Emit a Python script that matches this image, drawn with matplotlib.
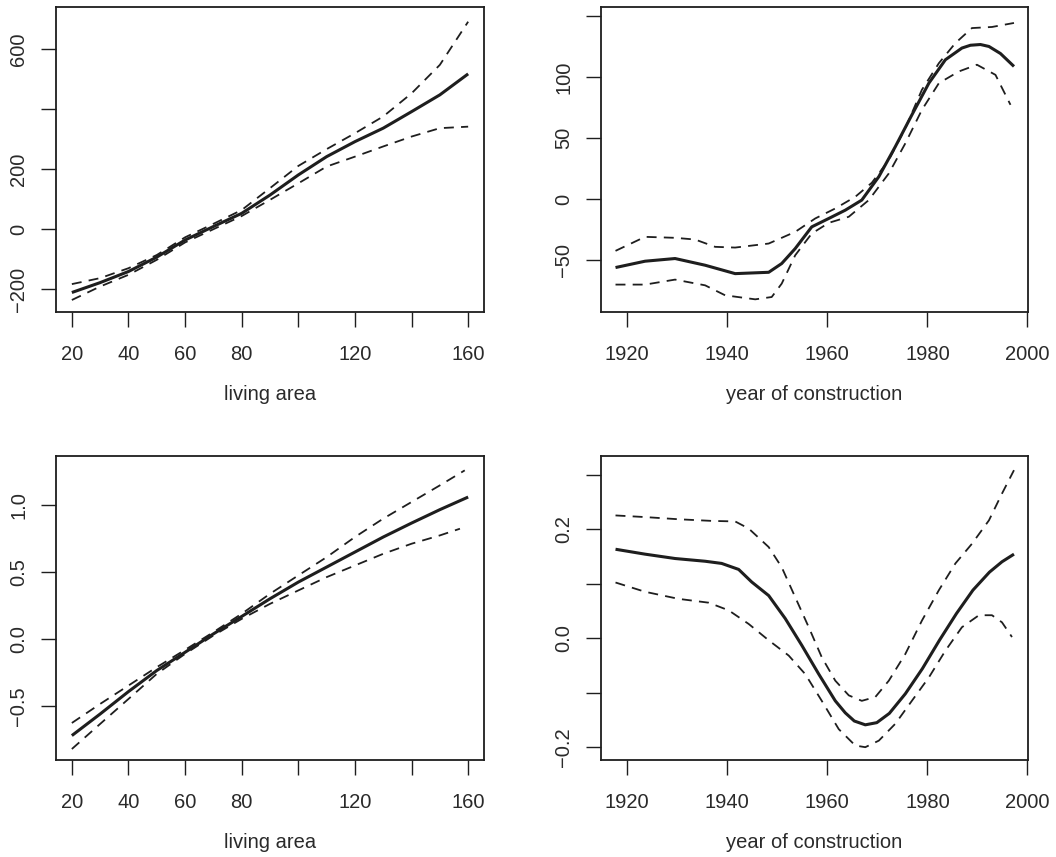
import matplotlib
matplotlib.use("Agg")
import matplotlib.pyplot as plt
from matplotlib.ticker import FixedLocator, FixedFormatter

plt.rcParams['font.family'] = ['Liberation Sans', 'DejaVu Sans']

# ---- Panel 1: living area (top) ----
area1 = [20, 30, 40, 50, 60, 70, 80, 90, 100, 110, 120, 130, 140, 150, 160]
fit1 = [-211, -178, -141, -93, -36, 9, 53, 114, 181, 242, 292, 337, 392, 448, 518]
upper1 = [-183, -163, -130, -86, -27, 18, 64, 137, 211, 267, 320, 376, 453, 548, 692]
lower1 = [-236, -191, -152, -102, -44, 0, 44, 98, 153, 209, 242, 276, 309, 337, 342]

# ---- Panel 2: year of construction (top) ----
year2 = [1917.7, 1923.6, 1929.6, 1935.6, 1941.6, 1948.3, 1950.9, 1953.6, 1956.9, 1960.3,
         1963.6, 1966.9, 1970.3, 1973.6, 1976.9, 1980.3, 1983.6, 1986.9, 1988.6, 1990.6,
         1992.3, 1994.6, 1997.3]
fit2 = [-56.2, -51.0, -48.8, -54.3, -61.2, -60.1, -52.9, -40.6, -22.8, -15.9,
        -9.1, -0.8, 18.4, 43.1, 69.1, 95.2, 114.4, 124.0, 126.3, 126.9,
        125.3, 119.5, 108.9]
year2u = [1917.7, 1923.6, 1929.6, 1933.6, 1937.6, 1941.6, 1948.3, 1953.6, 1957.6, 1961.6,
          1965.6, 1968.9, 1972.3, 1975.6, 1978.9, 1982.3, 1985.6, 1988.9, 1992.9, 1997.3]
upper2 = [-42.5, -31.0, -31.8, -33.2, -39.2, -39.8, -36.5, -26.9, -15.9, -7.7,
          1.9, 13.4, 32.1, 58.2, 89.7, 111.6, 128.1, 140.4, 141.3, 144.6]
year2l = [1917.7, 1923.6, 1929.6, 1935.6, 1939.6, 1945.6, 1948.9, 1950.9, 1953.6, 1956.9,
          1960.3, 1964.3, 1968.3, 1972.3, 1975.6, 1978.9, 1982.3, 1986.3, 1989.9, 1993.6, 1996.6]
lower2 = [-70.2, -70.2, -66.1, -70.8, -79.0, -82.3, -80.4, -69.4, -46.1, -28.3,
          -19.5, -14.5, -0.8, 21.1, 45.8, 73.2, 95.2, 104.8, 110.3, 102.0, 77.4]

# ---- Panel 3: living area (bottom) ----
area3 = [20, 30, 40, 50, 60, 70, 80, 90, 100, 110, 120, 130, 140, 150, 160]
fit3 = [-0.721, -0.56, -0.393, -0.236, -0.10, 0.037, 0.167, 0.299, 0.423, 0.535,
        0.647, 0.759, 0.863, 0.963, 1.057]
area3u = [20, 30, 40, 50, 60, 70, 80, 90, 100, 110, 120, 130, 140, 150, 158.8]
upper3 = [-0.627, -0.485, -0.348, -0.211, -0.082, 0.05, 0.187, 0.336, 0.473, 0.609,
          0.759, 0.896, 1.02, 1.144, 1.256]
area3l = [20, 30, 40, 50, 60, 70, 80, 90, 100, 110, 120, 130, 140, 150, 157.1]
lower3 = [-0.821, -0.634, -0.448, -0.261, -0.112, 0.025, 0.149, 0.261, 0.361, 0.46,
          0.547, 0.634, 0.709, 0.771, 0.821]

# ---- Panel 4: year of construction (bottom) ----
year4 = [1917.7, 1923.6, 1929.6, 1935.6, 1938.9, 1942.3, 1944.9, 1948.3, 1951.6, 1954.9,
         1958.3, 1961.6, 1963.6, 1965.4, 1967.6, 1969.9, 1972.4, 1975.6, 1979.0, 1982.4,
         1985.8, 1989.1, 1992.4, 1994.9, 1997.3]
fit4 = [0.163, 0.154, 0.146, 0.141, 0.137, 0.126, 0.103, 0.078, 0.036, -0.013,
        -0.066, -0.115, -0.137, -0.152, -0.159, -0.155, -0.138, -0.102, -0.056, -0.004,
        0.045, 0.088, 0.121, 0.140, 0.154]
year4u = [1917.7, 1923.6, 1930.3, 1936.9, 1941.6, 1944.3, 1948.3, 1950.9, 1953.6, 1956.3,
          1958.9, 1961.6, 1964.3, 1966.9, 1969.6, 1972.3, 1975.6, 1978.9, 1982.3, 1985.6,
          1988.9, 1992.3, 1994.9, 1997.3]
upper4 = [0.225, 0.222, 0.218, 0.215, 0.214, 0.201, 0.167, 0.13, 0.075, 0.02,
          -0.035, -0.078, -0.105, -0.115, -0.108, -0.078, -0.029, 0.032, 0.088, 0.137,
          0.173, 0.216, 0.265, 0.308]
year4l = [1917.7, 1923.6, 1930.3, 1936.3, 1940.3, 1944.3, 1948.3, 1952.3, 1955.6, 1958.9,
          1962.3, 1965.6, 1967.6, 1970.3, 1973.6, 1976.9, 1980.3, 1983.6, 1986.9, 1990.3,
          1992.9, 1994.9, 1996.9]
lower4 = [0.102, 0.085, 0.072, 0.065, 0.051, 0.026, -0.004, -0.032, -0.066, -0.115,
          -0.167, -0.197, -0.2, -0.188, -0.157, -0.115, -0.072, -0.023, 0.02, 0.042,
          0.042, 0.029, 0.002]

# ticks and labels
area_ticks = [20, 40, 60, 80, 100, 120, 140, 160]
area_labels = ['20', '40', '60', '80', '', '120', '', '160']
year_ticks = [1920, 1940, 1960, 1980, 2000]
year_labels = ['1920', '1940', '1960', '1980', '2000']
y1_ticks = [-200, 0, 200, 400, 600]
y1_labels = ['\u2212200', '0', '200', '', '600']
y2_ticks = [-50, 0, 50, 100, 150]
y2_labels = ['\u221250', '0', '50', '100', '']
y3_ticks = [-0.5, 0.0, 0.5, 1.0]
y3_labels = ['\u22120.5', '0.0', '0.5', '1.0']
y4_ticks = [-0.2, -0.1, 0.0, 0.1, 0.2, 0.3]
y4_labels = ['\u22120.2', '', '0.0', '', '0.2', '']

INK = '#1e1e1e'
TXT = '#2a2a2a'

W, H = 1056, 857
fig = plt.figure(figsize=(W / 100, H / 100), dpi=100)

def add_ax(left, right, top, bottom):
    return fig.add_axes([left / W, 1 - bottom / H, (right - left) / W, (bottom - top) / H])

axes = [
    add_ax(56, 484, 7, 312),
    add_ax(601, 1028, 7, 312),
    add_ax(56, 484, 456, 760),
    add_ax(601, 1028, 456, 760),
]

specs = [
    (area1, fit1, area1, upper1, area1, lower1, (14.4, 165.6), (-276, 741),
     area_ticks, area_labels, y1_ticks, y1_labels, 'living area'),
    (year2, fit2, year2u, upper2, year2l, lower2, (1914.8, 2000.1), (-92.7, 157.7),
     year_ticks, year_labels, y2_ticks, y2_labels, 'year of construction'),
    (area3, fit3, area3u, upper3, area3l, lower3, (14.4, 165.6), (-0.903, 1.363),
     area_ticks, area_labels, y3_ticks, y3_labels, 'living area'),
    (year4, fit4, year4u, upper4, year4l, lower4, (1914.8, 2000.1), (-0.2235, 0.334),
     year_ticks, year_labels, y4_ticks, y4_labels, 'year of construction'),
]

for ax, (x, f, xu, u, xl, l, xlim, ylim, xt, xtl, yt, ytl, xlabel) in zip(axes, specs):
    ax.plot(x, f, color=INK, lw=2.2, solid_capstyle='butt', solid_joinstyle='round')
    ax.plot(xu, u, color=INK, lw=1.3, linestyle=(0, (5.5, 4)))
    ax.plot(xl, l, color=INK, lw=1.3, linestyle=(0, (5.5, 4)))
    ax.set_xlim(*xlim)
    ax.set_ylim(*ylim)
    ax.xaxis.set_major_locator(FixedLocator(xt))
    ax.xaxis.set_major_formatter(FixedFormatter(xtl))
    ax.yaxis.set_major_locator(FixedLocator(yt))
    ax.yaxis.set_major_formatter(FixedFormatter(ytl))
    for s in ax.spines.values():
        s.set_linewidth(1.3)
        s.set_color(INK)
    ax.tick_params(axis='both', direction='out', length=11, width=1.0, color=INK,
                   labelsize=14.5, labelcolor=TXT)
    ax.tick_params(axis='x', pad=13)
    ax.tick_params(axis='y', pad=9)
    for lab in ax.get_yticklabels():
        lab.set_rotation(90)
        lab.set_va('center')
    ax.set_xlabel(xlabel, fontsize=14.5, color=TXT, labelpad=15)

fig.savefig('out.png', dpi=100)
